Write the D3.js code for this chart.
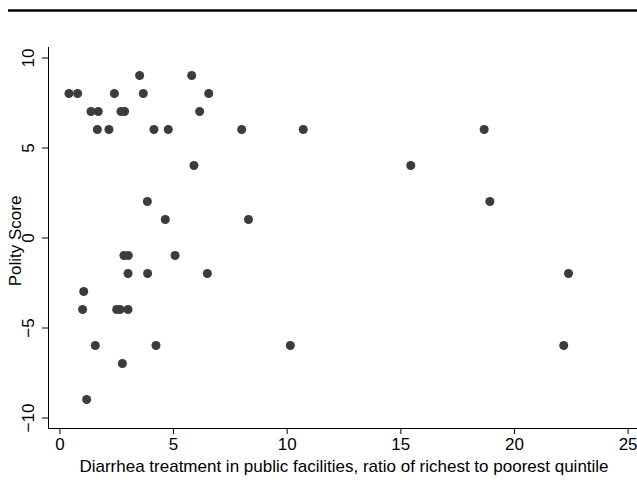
<!DOCTYPE html>
<html>
<head>
<meta charset="utf-8">
<script src="https://cdn.jsdelivr.net/npm/d3@7"></script>
<style>
	body { margin: 0; background: #fff; }
	svg text { font-family: 'Liberation Sans', Arial, sans-serif; fill: #000; }
</style>
</head>
<body>
<svg id="chart"></svg>
<script>
// ratio of richest to poorest quintile (x) and polity score (y)
const ratio = [
	3.53, 5.82,
	0.42, 0.80, 2.42, 3.69, 6.57,
	1.39, 1.71, 2.71, 2.87, 6.17,
	1.67, 2.18, 4.16, 4.79, 8.02, 10.73, 18.69,
	5.92, 15.46,
	3.87, 18.94,
	4.66, 8.32,
	2.84, 3.03, 5.09,
	3.02, 3.88, 6.51, 22.4,
	1.07,
	1.02, 2.52, 2.67, 3.02,
	1.58, 4.25, 10.16, 22.19,
	2.77,
	1.2
]
const polity = [
	9, 9,
	8, 8, 8, 8, 8,
	7, 7, 7, 7, 7,
	6, 6, 6, 6, 6, 6, 6,
	4, 4,
	2, 2,
	1, 1,
	-1, -1, -1,
	-2, -2, -2, -2,
	-3,
	-4, -4, -4, -4,
	-6, -6, -6, -6,
	-7,
	-9
]
const xTicks = [0, 5, 10, 15, 20, 25]
const yTicks = [-10, -5, 0, 5, 10]

const W = 637
const H = 501
const FONT = '17px'

const svg = d3.select('#chart')
	.attr('width', W)
	.attr('height', H)

const x = d3.scaleLinear().domain([0, 25]).range([59.4, 627.6])
const y = d3.scaleLinear().domain([-10, 10]).range([417.5, 57.5])

// rule across the top
svg.append('line')
	.attr('x1', 8).attr('x2', W)
	.attr('y1', 10.5).attr('y2', 10.5)
	.attr('stroke', '#000')
	.attr('stroke-width', 2.4)

// x axis
const xAxis = svg.append('g')
	.attr('transform', 'translate(0, 428)')
	.call(d3.axisBottom(x).tickValues(xTicks).tickSize(6).tickPadding(4).tickFormat(d3.format('d')))
xAxis.select('.domain').attr('d', `M48,0.5H${W}`)
xAxis.selectAll('text').style('font-size', FONT)

// y axis
const yAxis = svg.append('g')
	.attr('transform', 'translate(48, 0)')
	.call(d3.axisLeft(y).tickValues(yTicks).tickSize(6).tickPadding(0).tickFormat(d3.format('d')))
yAxis.select('.domain').attr('d', 'M0.5,47V428')
yAxis.selectAll('.tick text')
	.style('font-size', FONT)
	.attr('text-anchor', 'middle')
	.attr('transform', 'rotate(-90)')
	.attr('x', 0)
	.attr('y', -14)
	.attr('dy', 0)

// axis titles
svg.append('text')
	.attr('x', 344)
	.attr('y', 472)
	.attr('text-anchor', 'middle')
	.style('font-size', FONT)
	.text('Diarrhea treatment in public facilities, ratio of richest to poorest quintile')

svg.append('text')
	.attr('transform', 'translate(21, 241) rotate(-90)')
	.attr('text-anchor', 'middle')
	.style('font-size', FONT)
	.text('Polity Score')

// points
const points = ratio.map((r, i) => ({r, p: polity[i]}))
svg.append('g')
	.selectAll('circle')
	.data(points)
	.join('circle')
	.attr('cx', d => x(d.r))
	.attr('cy', d => y(d.p))
	.attr('r', 4.5)
	.attr('fill', '#3c3c3c')
</script>
</body>
</html>
